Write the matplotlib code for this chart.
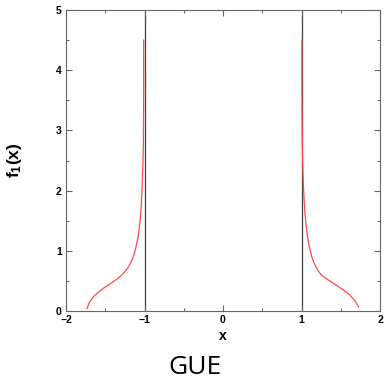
import matplotlib.pyplot as plt
from matplotlib.ticker import MultipleLocator

# left branch of f_1(x)
x_left = [-1.732, -1.70, -1.649, -1.59, -1.522, -1.46, -1.395, -1.34, -1.288, -1.245,
          -1.210, -1.180, -1.155, -1.134, -1.115, -1.098, -1.082, -1.068, -1.055,
          -1.043, -1.034, -1.027, -1.020, -1.014, -1.011, -1.010]
y_left = [0.04, 0.15, 0.24, 0.31, 0.38, 0.43, 0.49, 0.54, 0.60, 0.66,
          0.72, 0.79, 0.86, 0.94, 1.03, 1.12, 1.23, 1.36, 1.52,
          1.72, 1.95, 2.20, 2.45, 2.75, 3.50, 4.50]

# right branch
x_right = [1.005, 1.006, 1.010, 1.016, 1.024, 1.033, 1.043, 1.055, 1.068, 1.082,
           1.098, 1.115, 1.134, 1.155, 1.180, 1.210, 1.245, 1.290, 1.36, 1.443,
           1.53, 1.613, 1.68, 1.727]
y_right = [4.50, 3.50, 2.75, 2.40, 2.10, 1.85, 1.64, 1.47, 1.32, 1.19,
           1.08, 0.98, 0.89, 0.81, 0.74, 0.67, 0.61, 0.56, 0.50, 0.43,
           0.35, 0.27, 0.17, 0.07]

edges = [-1, 1]

plt.rcParams['mathtext.fontset'] = 'custom'
plt.rcParams['mathtext.bf'] = 'Liberation Sans:bold'
plt.rcParams['mathtext.rm'] = 'Liberation Sans:bold'

fig = plt.figure(figsize=(3.84, 3.80), dpi=100)
ax = fig.add_axes([66 / 384, 69 / 380, 314 / 384, 301 / 380])

for e in edges:
    ax.axvline(e, color='#404040', lw=0.9, zorder=1)
ax.plot(x_left, y_left, color='#ff4a4a', lw=0.9, zorder=2)
ax.plot(x_right, y_right, color='#ff4a4a', lw=0.9, zorder=2)

ax.set_xlim(-2, 2)
ax.set_ylim(0, 5)
ax.xaxis.set_major_locator(MultipleLocator(1))
ax.xaxis.set_minor_locator(MultipleLocator(0.5))
ax.yaxis.set_major_locator(MultipleLocator(1))
ax.yaxis.set_minor_locator(MultipleLocator(0.5))
ax.tick_params(which='both', direction='in', top=True, right=True,
               color='#666666', width=0.8)
ax.tick_params(which='major', length=4, labelsize=7.5, pad=3)
ax.tick_params(which='minor', length=2.5)
for lbl in ax.get_xticklabels() + ax.get_yticklabels():
    lbl.set_family('Liberation Sans')
    lbl.set_fontweight('bold')
for s in ax.spines.values():
    s.set_color('#666666')
    s.set_linewidth(0.8)

ax.set_xlabel('x', family='Liberation Sans', fontweight='bold', fontsize=10, labelpad=2.5)
ax.set_ylabel(r'$\mathbf{f_1(x)}$', fontsize=12.5)
ax.yaxis.set_label_coords(-0.135, 0.5)

fig.text(195 / 384, 0.5 / 380, 'GUE', family='Open Sans', fontsize=19,
         ha='center', va='bottom')

fig.savefig('out.png', dpi=100)
